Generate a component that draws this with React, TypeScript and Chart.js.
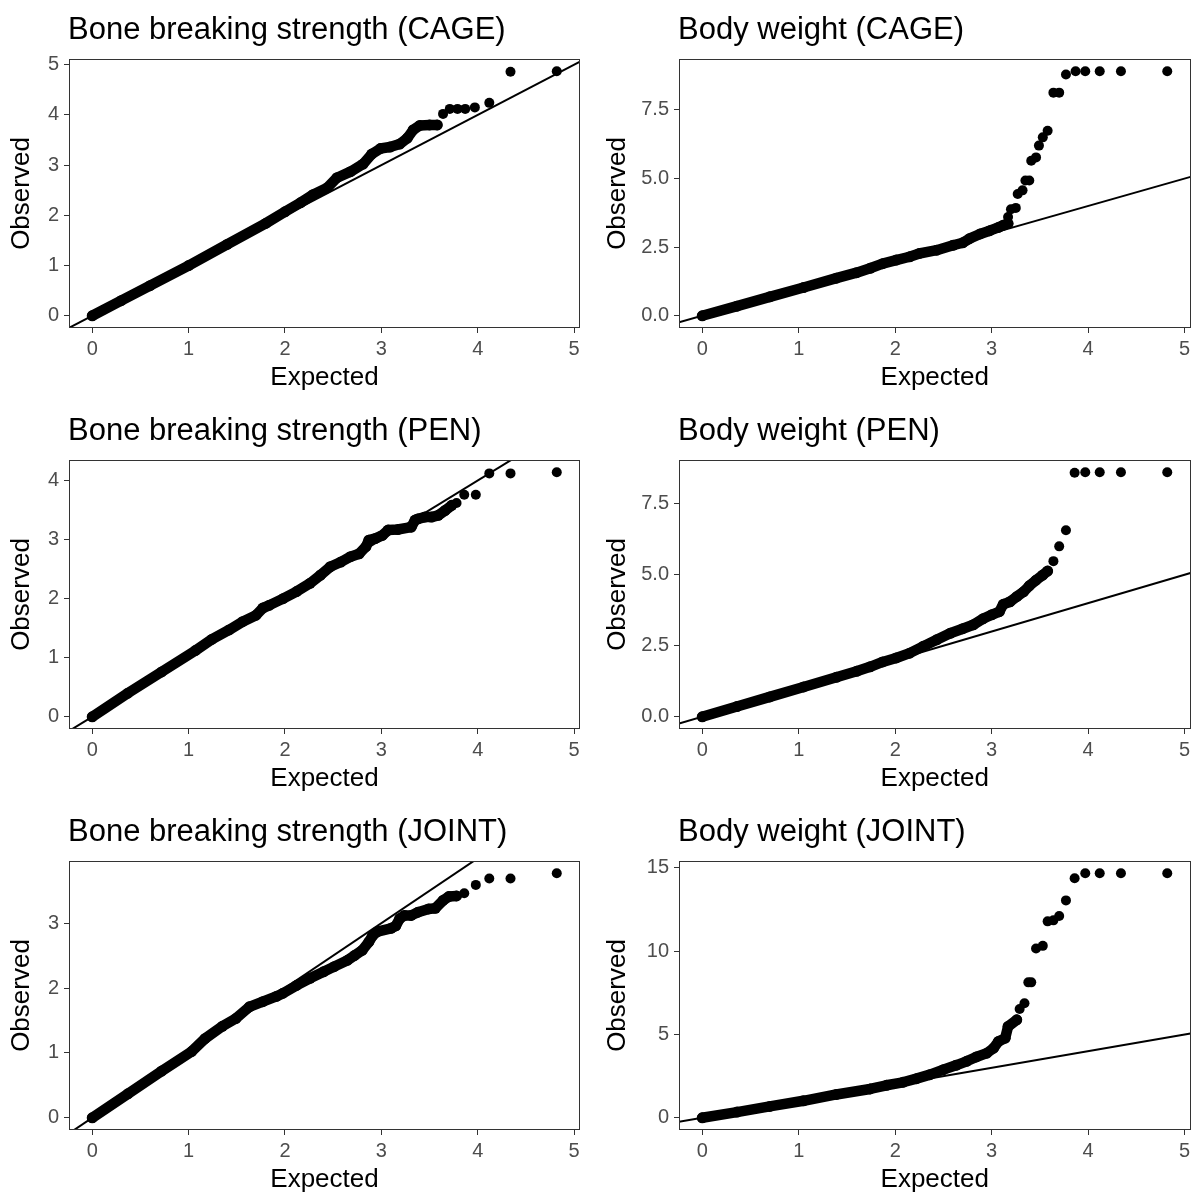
import React, { useEffect, useRef } from 'react';
import { Chart, registerables } from 'chart.js';

Chart.register(...registerables);

// ---------- Data (expected vs observed -log10 p) ----------
// Bone breaking strength (CAGE)
const boneCageBandExpected = [0, 0.3, 0.6, 1.0, 1.4, 1.8, 2.0, 2.16, 2.29, 2.44, 2.54, 2.68, 2.81, 2.9, 2.99, 3.09, 3.19, 3.27, 3.33, 3.4, 3.5, 3.58];
const boneCageBandObserved = [0, 0.3, 0.6, 1.0, 1.42, 1.84, 2.07, 2.25, 2.41, 2.55, 2.75, 2.87, 3.02, 3.22, 3.33, 3.36, 3.42, 3.54, 3.7, 3.79, 3.8, 3.8];
const boneCageTailExpected = [3.64, 3.71, 3.79, 3.87, 3.97, 4.12, 4.34, 4.82];
const boneCageTailObserved = [4.02, 4.12, 4.12, 4.12, 4.15, 4.24, 4.86, 4.87];

// Body weight (CAGE)
const bodyCageBandExpected = [0, 0.36, 0.7, 1.05, 1.39, 1.6, 1.74, 1.87, 2.01, 2.15, 2.25, 2.43, 2.6, 2.7, 2.77, 2.88, 2.98, 3.07, 3.12, 3.17];
const bodyCageBandObserved = [0, 0.35, 0.69, 1.03, 1.37, 1.57, 1.73, 1.9, 2.03, 2.15, 2.27, 2.39, 2.57, 2.66, 2.81, 2.98, 3.1, 3.22, 3.3, 3.36];
const bodyCageTailExpected = [3.17, 3.2, 3.25, 3.27, 3.32, 3.35, 3.39, 3.41, 3.46, 3.49, 3.53, 3.58, 3.64, 3.7, 3.77, 3.87, 3.97, 4.12, 4.34, 4.82];
const bodyCageTailObserved = [3.6, 3.88, 3.93, 4.44, 4.57, 4.93, 4.93, 5.65, 5.77, 6.2, 6.5, 6.74, 8.13, 8.13, 8.79, 8.91, 8.91, 8.91, 8.91, 8.91];

// Bone breaking strength (PEN)
const bonePenBandExpected = [0, 0.37, 0.72, 1.07, 1.24, 1.42, 1.56, 1.7, 1.77, 1.84, 1.98, 2.12, 2.26, 2.37, 2.47, 2.58, 2.68, 2.77, 2.84, 2.87, 2.94, 3.01, 3.07, 3.17, 3.31, 3.35, 3.38, 3.45, 3.52, 3.59, 3.66, 3.73];
const bonePenBandObserved = [0, 0.4, 0.76, 1.12, 1.31, 1.47, 1.61, 1.72, 1.84, 1.89, 2.0, 2.12, 2.26, 2.4, 2.54, 2.62, 2.71, 2.76, 2.88, 2.99, 3.02, 3.07, 3.16, 3.17, 3.21, 3.33, 3.35, 3.38, 3.38, 3.41, 3.49, 3.58];
const bonePenTailExpected = [3.78, 3.86, 3.98, 4.12, 4.34, 4.82];
const bonePenTailObserved = [3.62, 3.76, 3.76, 4.12, 4.12, 4.14];

// Body weight (PEN)
const bodyPenBandExpected = [0, 0.36, 0.7, 1.05, 1.39, 1.6, 1.74, 1.87, 2.01, 2.15, 2.29, 2.43, 2.57, 2.7, 2.81, 2.91, 3.0, 3.08, 3.12, 3.19, 3.26, 3.33, 3.39, 3.46, 3.53, 3.58];
const bodyPenBandObserved = [0, 0.36, 0.7, 1.05, 1.39, 1.6, 1.76, 1.93, 2.07, 2.24, 2.48, 2.71, 2.94, 3.1, 3.24, 3.45, 3.59, 3.7, 3.96, 4.05, 4.23, 4.4, 4.61, 4.81, 4.99, 5.13];
const bodyPenTailExpected = [3.64, 3.7, 3.77, 3.86, 3.97, 4.12, 4.34, 4.82];
const bodyPenTailObserved = [5.48, 6.0, 6.57, 8.59, 8.61, 8.61, 8.61, 8.61];

// Bone breaking strength (JOINT)
const boneJointBandExpected = [0, 0.37, 0.72, 1.03, 1.17, 1.35, 1.49, 1.63, 1.77, 1.91, 1.98, 2.12, 2.26, 2.4, 2.51, 2.65, 2.72, 2.8, 2.87, 2.91, 2.96, 3.1, 3.15, 3.19, 3.24, 3.31, 3.38, 3.49, 3.56, 3.64, 3.7, 3.78];
const boneJointBandObserved = [0, 0.37, 0.72, 1.02, 1.22, 1.41, 1.53, 1.71, 1.79, 1.87, 1.92, 2.04, 2.15, 2.25, 2.33, 2.43, 2.5, 2.58, 2.71, 2.81, 2.87, 2.92, 2.96, 3.07, 3.12, 3.12, 3.17, 3.22, 3.23, 3.35, 3.41, 3.42];
const boneJointTailExpected = [3.86, 3.98, 4.12, 4.34, 4.82];
const boneJointTailObserved = [3.46, 3.59, 3.69, 3.69, 3.77];

// Body weight (JOINT)
const bodyJointBandExpected = [0, 0.36, 0.7, 1.05, 1.39, 1.74, 1.91, 2.08, 2.22, 2.36, 2.5, 2.63, 2.74, 2.84, 2.95, 3.02, 3.07, 3.14, 3.17, 3.26];
const bodyJointBandObserved = [0, 0.34, 0.68, 1.02, 1.4, 1.73, 1.95, 2.13, 2.35, 2.59, 2.89, 3.15, 3.39, 3.65, 3.88, 4.18, 4.58, 4.78, 5.48, 5.88];
const bodyJointTailExpected = [3.29, 3.34, 3.38, 3.41, 3.46, 3.53, 3.58, 3.64, 3.7, 3.77, 3.86, 3.97, 4.12, 4.34, 4.82];
const bodyJointTailObserved = [6.53, 6.87, 8.13, 8.13, 10.16, 10.32, 11.79, 11.85, 12.11, 13.05, 14.38, 14.68, 14.68, 14.68, 14.68];

const panelTitles = [
  'Bone breaking strength (CAGE)',
  'Body weight (CAGE)',
  'Bone breaking strength (PEN)',
  'Body weight (PEN)',
  'Bone breaking strength (JOINT)',
  'Body weight (JOINT)',
];

// Tick values
const xTickValues = [0, 1, 2, 3, 4, 5];
const boneCageYTicks = [0, 1, 2, 3, 4, 5];
const bodyCageYTicks = [0, 2.5, 5, 7.5];
const bonePenYTicks = [0, 1, 2, 3, 4];
const bodyPenYTicks = [0, 2.5, 5, 7.5];
const boneJointYTicks = [0, 1, 2, 3];
const bodyJointYTicks = [0, 5, 10, 15];
const yTickDecimals = [0, 1, 0, 1, 0, 0];

const FONT = '"Liberation Sans", Arial, Helvetica, sans-serif';
const PANEL_W = 596;
const PANEL_H = 401;

type PanelDef = {
  title: string;
  bandX: number[];
  bandY: number[];
  tailX: number[];
  tailY: number[];
  yTicks: number[];
  yDec: number;
  col: number;
  row: number;
};

const panels: PanelDef[] = [
  { bandX: boneCageBandExpected, bandY: boneCageBandObserved, tailX: boneCageTailExpected, tailY: boneCageTailObserved, yTicks: boneCageYTicks },
  { bandX: bodyCageBandExpected, bandY: bodyCageBandObserved, tailX: bodyCageTailExpected, tailY: bodyCageTailObserved, yTicks: bodyCageYTicks },
  { bandX: bonePenBandExpected, bandY: bonePenBandObserved, tailX: bonePenTailExpected, tailY: bonePenTailObserved, yTicks: bonePenYTicks },
  { bandX: bodyPenBandExpected, bandY: bodyPenBandObserved, tailX: bodyPenTailExpected, tailY: bodyPenTailObserved, yTicks: bodyPenYTicks },
  { bandX: boneJointBandExpected, bandY: boneJointBandObserved, tailX: boneJointTailExpected, tailY: boneJointTailObserved, yTicks: boneJointYTicks },
  { bandX: bodyJointBandExpected, bandY: bodyJointBandObserved, tailX: bodyJointTailExpected, tailY: bodyJointTailObserved, yTicks: bodyJointYTicks },
].map((d, i) => ({
  ...d,
  title: panelTitles[i],
  yDec: yTickDecimals[i],
  col: i % 2,
  row: Math.floor(i / 2),
}));

const frameAndTitle = {
  id: 'frameAndTitle',
  afterDraw(chart: any, _args: any, opts: any) {
    const { ctx, chartArea } = chart;
    ctx.save();
    ctx.strokeStyle = '#333333';
    ctx.lineWidth = 1;
    ctx.strokeRect(
      Math.round(chartArea.left) + 0.5,
      Math.round(chartArea.top) + 0.5,
      Math.round(chartArea.right - chartArea.left) - 1,
      Math.round(chartArea.bottom - chartArea.top) - 1
    );
    ctx.fillStyle = '#000000';
    ctx.font = `31px ${FONT}`;
    ctx.textAlign = 'left';
    ctx.textBaseline = 'alphabetic';
    ctx.fillText(opts.text, chartArea.left - 1, 39);
    ctx.restore();
  },
};

function Panel({ p }: { p: PanelDef }) {
  const ref = useRef<HTMLCanvasElement>(null);
  // right column canvas is slightly wider (overflow is clipped by the wrapper)
  const canvasW = p.col === 0 ? PANEL_W : PANEL_W + 4;
  useEffect(() => {
    if (!ref.current) return;
    const allX = [...p.bandX, ...p.tailX];
    const allY = [...p.bandY, ...p.tailY];
    const xMin = Math.min(...allX), xMax = Math.max(...allX);
    const yMin = Math.min(...allY), yMax = Math.max(...allY);
    const xPad = (xMax - xMin) * 0.05;
    const yPad = (yMax - yMin) * 0.05;
    const xLo = xMin - xPad, xHi = xMax + xPad;
    const yLo = yMin - yPad, yHi = yMax + yPad;
    const yAxisWidth = p.col === 0 ? 69 : 83;
    const padRight = p.col === 0 ? 16 : 2;

    const chart = new Chart(ref.current, {
      type: 'scatter',
      data: {
        datasets: [
          {
            label: 'y = x',
            data: [{ x: xLo, y: xLo }, { x: xHi, y: xHi }],
            showLine: true,
            borderColor: '#000000',
            borderWidth: 2,
            pointRadius: 0,
            clip: 0,
          } as any,
          {
            label: 'tail',
            data: p.tailX.map((x, i) => ({ x, y: p.tailY[i] })),
            showLine: false,
            backgroundColor: '#000000',
            pointRadius: 5,
            pointBorderWidth: 0,
            clip: false,
          } as any,
          {
            label: 'band',
            data: p.bandX.map((x, i) => ({ x, y: p.bandY[i] })),
            showLine: true,
            borderColor: '#000000',
            borderWidth: 10.5,
            borderJoinStyle: 'round',
            borderCapStyle: 'round',
            backgroundColor: '#000000',
            pointRadius: 5.5,
            pointBorderWidth: 0,
            tension: 0,
            clip: false,
          } as any,
        ],
      },
      options: {
        responsive: false,
        animation: false,
        events: [],
        layout: { padding: { top: 59, right: padRight, bottom: 0, left: 0 } },
        plugins: {
          legend: { display: false },
          tooltip: { enabled: false },
          title: { display: false },
          frameAndTitle: { text: p.title },
        } as any,
        scales: {
          x: {
            type: 'linear',
            bounds: 'data',
            min: xLo,
            max: xHi,
            border: { display: false },
            grid: { drawOnChartArea: false, drawTicks: true, tickLength: 5, tickColor: '#333333', tickWidth: 1 },
            afterBuildTicks: (s: any) => {
              s.ticks = xTickValues.map((v) => ({ value: v }));
            },
            ticks: {
              color: '#4D4D4D',
              font: { family: FONT, size: 20 },
              padding: 4,
              maxRotation: 0,
              autoSkip: false,
              callback: (v: any) => String(v),
            },
            title: {
              display: true,
              text: 'Expected',
              color: '#000000',
              font: { family: FONT, size: 26 },
              padding: { top: 0, bottom: 8 },
            },
            afterFit: (s: any) => {
              s.height = 73;
            },
          } as any,
          y: {
            type: 'linear',
            bounds: 'data',
            min: yLo,
            max: yHi,
            border: { display: false },
            grid: { drawOnChartArea: false, drawTicks: true, tickLength: 5, tickColor: '#333333', tickWidth: 1 },
            afterBuildTicks: (s: any) => {
              s.ticks = p.yTicks.map((v) => ({ value: v }));
            },
            ticks: {
              color: '#4D4D4D',
              font: { family: FONT, size: 20 },
              padding: 5,
              autoSkip: false,
              callback: (v: any) => Number(v).toFixed(p.yDec),
            },
            title: {
              display: true,
              text: 'Observed',
              color: '#000000',
              font: { family: FONT, size: 26 },
              padding: { top: 6, bottom: 0 },
            },
            afterFit: (s: any) => {
              s.width = yAxisWidth;
            },
          } as any,
        },
      },
      plugins: [frameAndTitle],
    });
    return () => chart.destroy();
  }, [p]);
  return (
    <canvas
      ref={ref}
      width={canvasW}
      height={PANEL_H}
      style={{
        position: 'absolute',
        left: p.col * PANEL_W,
        top: p.row * PANEL_H,
        width: canvasW,
        height: PANEL_H,
      }}
    />
  );
}

export default function App() {
  return (
    <div
      style={{
        position: 'fixed',
        left: 0,
        top: 0,
        width: 1192,
        height: 1193,
        background: '#ffffff',
        overflow: 'hidden',
      }}
    >
      {panels.map((p, i) => (
        <Panel key={i} p={p} />
      ))}
    </div>
  );
}
